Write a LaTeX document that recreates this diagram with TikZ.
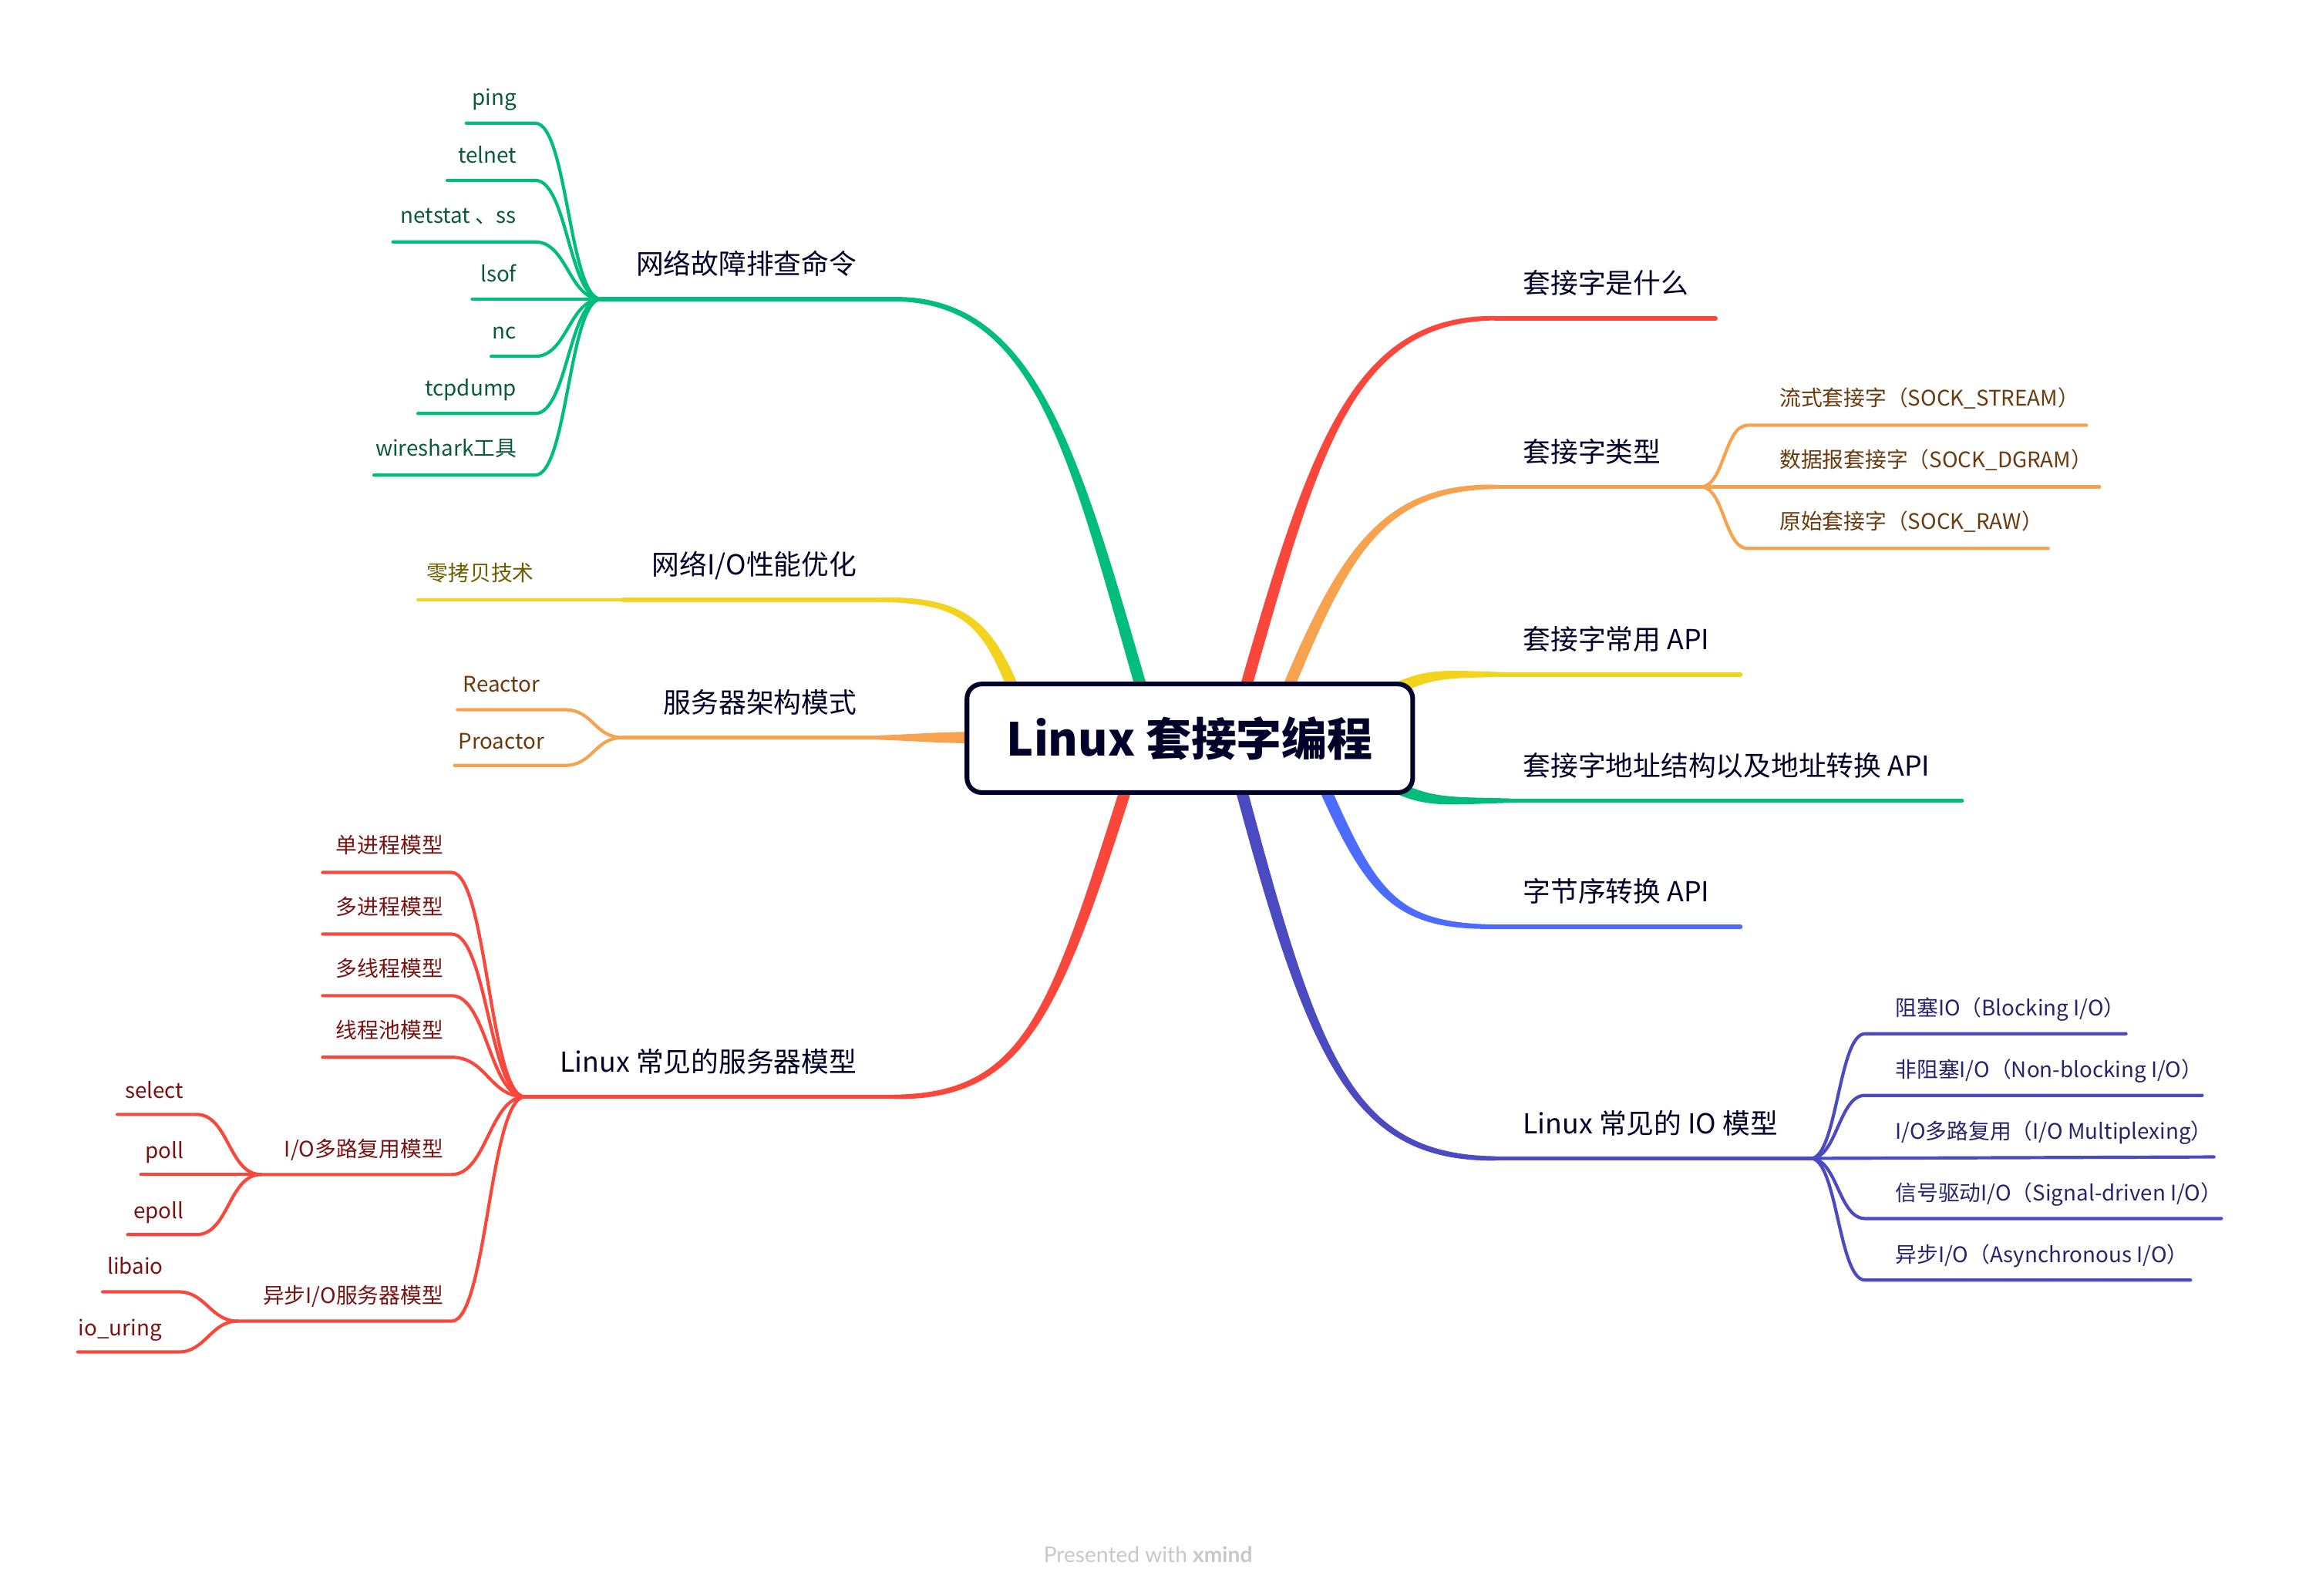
\documentclass[tikz,border=0pt]{standalone}
\usepackage{fontspec}
\setmainfont{Noto Sans CJK SC}
\newfontfamily\footfont{Lato}
\usetikzlibrary{calc}

\definecolor{cred}{HTML}{F9473C}
\definecolor{corange}{HTML}{F7A24E}
\definecolor{cyellow}{HTML}{F2D31E}
\definecolor{cgreen}{HTML}{00BD7B}
\definecolor{cblue}{HTML}{4C6CFF}
\definecolor{cindigo}{HTML}{4C4AC0}
\definecolor{tnavy}{HTML}{000229}
\definecolor{tgreen}{HTML}{0A5A3A}
\definecolor{tbrown}{HTML}{6B3A0E}
\definecolor{tred}{HTML}{7A1212}
\definecolor{tolive}{HTML}{6E5E00}
\definecolor{tindigo}{HTML}{26246A}
\definecolor{footgray}{HTML}{C8C8C8}

\tikzset{every picture/.style={line width=0.75pt}}
\tikzset{
  topic/.style={inner sep=0pt, font=\fontsize{9.4}{11}\selectfont, text=tnavy},
  leaf/.style={inner sep=0pt, font=\fontsize{7.3}{9}\selectfont},
  mainline/.style={line width=1.5pt, line cap=round},
  subline/.style={line width=1.1pt, line cap=round},
}

% tapered branch leaving the central topic
\newcommand{\rootbranch}[5]{%
  \fill[#1] ($(#2)!2pt!90:(#3)$) .. controls ($(#3)!2pt!-90:(#2)$) and ($(#4)!1.3pt!90:(#5)$) .. ($(#5)!0.75pt!-90:(#4)$)
    -- ($(#5)!0.75pt!90:(#4)$) .. controls ($(#4)!1.3pt!-90:(#5)$) and ($(#3)!2pt!90:(#2)$) .. ($(#2)!2pt!-90:(#3)$) -- cycle;}

\begin{document}
\begin{tikzpicture}[x=0.5pt,y=0.5pt,yscale=-1,xscale=1]
	\useasboundingbox (0,0) rectangle (1568,1088.4);

	%Right branches
	\coordinate (r1s) at (845,485); \coordinate (r1e) at (1020,217); \coordinate (r1t) at (1170,217);
	\rootbranch{cred}{r1s}{895,310}{920,217}{r1e}
	\draw [cred, mainline] (r1e) -- (r1t);

	\coordinate (r2s) at (872,485); \coordinate (r2e) at (1020,332); \coordinate (typehub) at (1160,332);
	\rootbranch{corange}{r2s}{915,380}{940,332}{r2e}
	\draw [corange, mainline] (r2e) -- (typehub);

	\coordinate (r3s) at (948,472); \coordinate (r3e) at (1030,460); \coordinate (r3t) at (1187,460);
	\rootbranch{cyellow}{r3s}{975,458}{985,460}{r3e}
	\draw [cyellow, mainline] (r3e) -- (r3t);

	\coordinate (r4s) at (948,535); \coordinate (r4e) at (1030,546); \coordinate (r4t) at (1338,546);
	\rootbranch{cgreen}{r4s}{975,548}{985,546}{r4e}
	\draw [cgreen, mainline] (r4e) -- (r4t);

	\coordinate (r5s) at (898,525); \coordinate (r5e) at (1020,632); \coordinate (r5t) at (1187,632);
	\rootbranch{cblue}{r5s}{935,610}{950,632}{r5e}
	\draw [cblue, mainline] (r5e) -- (r5t);

	\coordinate (r6s) at (843,525); \coordinate (r6e) at (1020,790); \coordinate (iohub) at (1235,790);
	\rootbranch{cindigo}{r6s}{895,720}{920,790}{r6e}
	\draw [cindigo, mainline] (r6e) -- (iohub);

	%Left branches
	\coordinate (l1s) at (783,485); \coordinate (l1e) at (610,204); \coordinate (cmdhub) at (410,204);
	\rootbranch{cgreen}{l1s}{735,320}{710,204}{l1e}
	\draw [cgreen, mainline] (l1e) -- (cmdhub);

	\coordinate (l2s) at (697,485); \coordinate (l2e) at (600,409); \coordinate (perfhub) at (425,409);
	\rootbranch{cyellow}{l2s}{675,425}{660,409}{l2e}
	\draw [cyellow, mainline] (l2e) -- (perfhub);

	\coordinate (l3s) at (675,503); \coordinate (l3e) at (600,503); \coordinate (archhub) at (425,503);
	\rootbranch{corange}{l3s}{640,503}{630,503}{l3e}
	\draw [corange, mainline] (l3e) -- (archhub);

	\coordinate (l4s) at (772,525); \coordinate (l4e) at (610,748); \coordinate (modelhub) at (358,748);
	\rootbranch{cred}{l4s}{720,690}{700,748}{l4e}
	\draw [cred, mainline] (l4e) -- (modelhub);

	%Central topic
	\node [draw=tnavy, line width=1.6pt, rounded corners=5pt, fill=white, minimum width=152pt, minimum height=37pt, text=tnavy, font=\bfseries\fontsize{15.5}{18}\selectfont] (root) at (811.5,503.5) {Linux 套接字编程};

	% Text Node
	\node [topic, anchor=base west] (what) at (1038,200) {套接字是什么};
	\node [topic, anchor=base west] (types) at (1038,315) {套接字类型};
	\node [topic, anchor=base west] (api) at (1038,443) {套接字常用 API};
	\node [topic, anchor=base west] (addr) at (1038,529) {套接字地址结构以及地址转换 API};
	\node [topic, anchor=base west] (order) at (1038,615) {字节序转换 API};
	\node [topic, anchor=base west] (iomodel) at (1038,773) {Linux 常见的 IO 模型};
	\node [topic, anchor=base east] (cmds) at (585,187) {网络故障排查命令};
	\node [topic, anchor=base east] (perf) at (585,392) {网络I/O性能优化};
	\node [topic, anchor=base east] (arch) at (585,486) {服务器架构模式};
	\node [topic, anchor=base east] (models) at (585,731) {Linux 常见的服务器模型};

	%Socket types
	\coordinate (st1) at (1423,290); \coordinate (st2) at (1432,332); \coordinate (st3) at (1397,374);
	\draw [corange, subline] (typehub) .. controls +(16,0) and +(-16,0) .. (1192,290) -- (st1);
	\draw [corange, subline] (typehub) -- (st2);
	\draw [corange, subline] (typehub) .. controls +(16,0) and +(-16,0) .. (1192,374) -- (st3);
	\node [leaf, text=tbrown, anchor=base west] (stream) at (1213,277) {流式套接字（SOCK\_STREAM）};
	\node [leaf, text=tbrown, anchor=base west] (dgram) at (1213,319) {数据报套接字（SOCK\_DGRAM）};
	\node [leaf, text=tbrown, anchor=base west] (raw) at (1213,361) {原始套接字（SOCK\_RAW）};

	%IO models
	\coordinate (io1) at (1450,705); \coordinate (io2) at (1502,747); \coordinate (io3) at (1510,789);
	\coordinate (io4) at (1515,831); \coordinate (io5) at (1494,873);
	\draw [cindigo, subline] (iohub) .. controls +(18,0) and +(-18,0) .. (1272,705) -- (io1);
	\draw [cindigo, subline] (iohub) .. controls +(18,0) and +(-18,0) .. (1272,747) -- (io2);
	\draw [cindigo, subline] (iohub) -- (io3);
	\draw [cindigo, subline] (iohub) .. controls +(18,0) and +(-18,0) .. (1272,831) -- (io4);
	\draw [cindigo, subline] (iohub) .. controls +(18,0) and +(-18,0) .. (1272,873) -- (io5);
	\node [leaf, text=tindigo, anchor=base west] (blocking) at (1292,693) {阻塞IO（Blocking I/O）};
	\node [leaf, text=tindigo, anchor=base west] (nonblock) at (1292,735) {非阻塞I/O（Non-blocking I/O）};
	\node [leaf, text=tindigo, anchor=base west] (mux) at (1292,777) {I/O多路复用（I/O Multiplexing）};
	\node [leaf, text=tindigo, anchor=base west] (signal) at (1292,819) {信号驱动I/O（Signal-driven I/O）};
	\node [leaf, text=tindigo, anchor=base west] (async) at (1292,861) {异步I/O（Asynchronous I/O）};

	%Commands
	\coordinate (c1) at (318,84); \coordinate (c2) at (305,123); \coordinate (c3) at (268,165);
	\coordinate (c4) at (322,204); \coordinate (c5) at (335,243); \coordinate (c6) at (285,282);
	\coordinate (c7) at (255,324);
	\draw [cgreen, subline] (c1) -- (365,84) .. controls +(22,0) and +(-22,0) .. (cmdhub);
	\draw [cgreen, subline] (c2) -- (365,123) .. controls +(22,0) and +(-22,0) .. (cmdhub);
	\draw [cgreen, subline] (c3) -- (365,165) .. controls +(22,0) and +(-22,0) .. (cmdhub);
	\draw [cgreen, subline] (c4) -- (cmdhub);
	\draw [cgreen, subline] (c5) -- (365,243) .. controls +(22,0) and +(-22,0) .. (cmdhub);
	\draw [cgreen, subline] (c6) -- (365,282) .. controls +(22,0) and +(-22,0) .. (cmdhub);
	\draw [cgreen, subline] (c7) -- (365,324) .. controls +(22,0) and +(-22,0) .. (cmdhub);
	\node [leaf, text=tgreen, anchor=base east] (ping) at (353,72) {ping};
	\node [leaf, text=tgreen, anchor=base east] (telnet) at (353,111) {telnet};
	\node [leaf, text=tgreen, anchor=base east] (netstat) at (353,152) {netstat 、ss};
	\node [leaf, text=tgreen, anchor=base east] (lsof) at (353,192) {lsof};
	\node [leaf, text=tgreen, anchor=base east] (nc) at (353,231) {nc};
	\node [leaf, text=tgreen, anchor=base east] (tcpdump) at (353,270) {tcpdump};
	\node [leaf, text=tgreen, anchor=base east] (wireshark) at (353,311) {wireshark工具};

	%Zero copy
	\coordinate (zc) at (285,409);
	\draw [cyellow, subline] (perfhub) -- (zc);
	\node [leaf, text=tolive, anchor=base east] (zerocopy) at (365,396) {零拷贝技术};

	%Reactor / Proactor
	\coordinate (a1) at (312,484); \coordinate (a2) at (310,522);
	\draw [corange, subline] (a1) -- (385,484) .. controls +(20,0) and +(-20,0) .. (archhub);
	\draw [corange, subline] (a2) -- (385,522) .. controls +(20,0) and +(-20,0) .. (archhub);
	\node [leaf, text=tbrown, anchor=base east] (reactor) at (369,472) {Reactor};
	\node [leaf, text=tbrown, anchor=base east] (proactor) at (372,511) {Proactor};

	%Server models
	\coordinate (m1) at (220,595); \coordinate (m2) at (220,637); \coordinate (m3) at (220,679);
	\coordinate (m4) at (220,721); \coordinate (muxhub) at (178,801); \coordinate (asynchub) at (162,901);
	\draw [cred, subline] (m1) -- (308,595) .. controls +(24,0) and +(-24,0) .. (modelhub);
	\draw [cred, subline] (m2) -- (308,637) .. controls +(24,0) and +(-24,0) .. (modelhub);
	\draw [cred, subline] (m3) -- (308,679) .. controls +(24,0) and +(-24,0) .. (modelhub);
	\draw [cred, subline] (m4) -- (308,721) .. controls +(24,0) and +(-24,0) .. (modelhub);
	\draw [cred, subline] (muxhub) -- (308,801) .. controls +(24,0) and +(-24,0) .. (modelhub);
	\draw [cred, subline] (asynchub) -- (308,901) .. controls +(24,0) and +(-24,0) .. (modelhub);
	\node [leaf, text=tred, anchor=base east] (single) at (303,582) {单进程模型};
	\node [leaf, text=tred, anchor=base east] (multi) at (303,624) {多进程模型};
	\node [leaf, text=tred, anchor=base east] (thread) at (303,666) {多线程模型};
	\node [leaf, text=tred, anchor=base east] (pool) at (303,708) {线程池模型};
	\node [leaf, text=tred, anchor=base east] (iomux) at (303,789) {I/O多路复用模型};
	\node [leaf, text=tred, anchor=base east] (aio) at (303,889) {异步I/O服务器模型};

	%select / poll / epoll
	\coordinate (s1) at (80,760); \coordinate (s2) at (96,801); \coordinate (s3) at (87,842);
	\draw [cred, subline] (s1) -- (134,760) .. controls +(22,0) and +(-22,0) .. (muxhub);
	\draw [cred, subline] (s2) -- (muxhub);
	\draw [cred, subline] (s3) -- (134,842) .. controls +(22,0) and +(-22,0) .. (muxhub);
	\node [leaf, text=tred, anchor=base east] (select) at (126,749) {select};
	\node [leaf, text=tred, anchor=base east] (poll) at (126,790) {poll};
	\node [leaf, text=tred, anchor=base east] (epoll) at (126,831) {epoll};

	%libaio / io_uring
	\coordinate (u1) at (70,881); \coordinate (u2) at (53,922);
	\draw [cred, subline] (u1) -- (122,881) .. controls +(18,0) and +(-18,0) .. (asynchub);
	\draw [cred, subline] (u2) -- (122,922) .. controls +(18,0) and +(-18,0) .. (asynchub);
	\node [leaf, text=tred, anchor=base east] (libaio) at (112,869) {libaio};
	\node [leaf, text=tred, anchor=base east] (iouring) at (111,911) {io\_uring};

	% Text Node
	\node [text=footgray, font=\footfont\fontsize{7.4}{8}\selectfont] (credit) at (783,1060) {Presented with \textbf{xmind}};

\end{tikzpicture}
\end{document}
